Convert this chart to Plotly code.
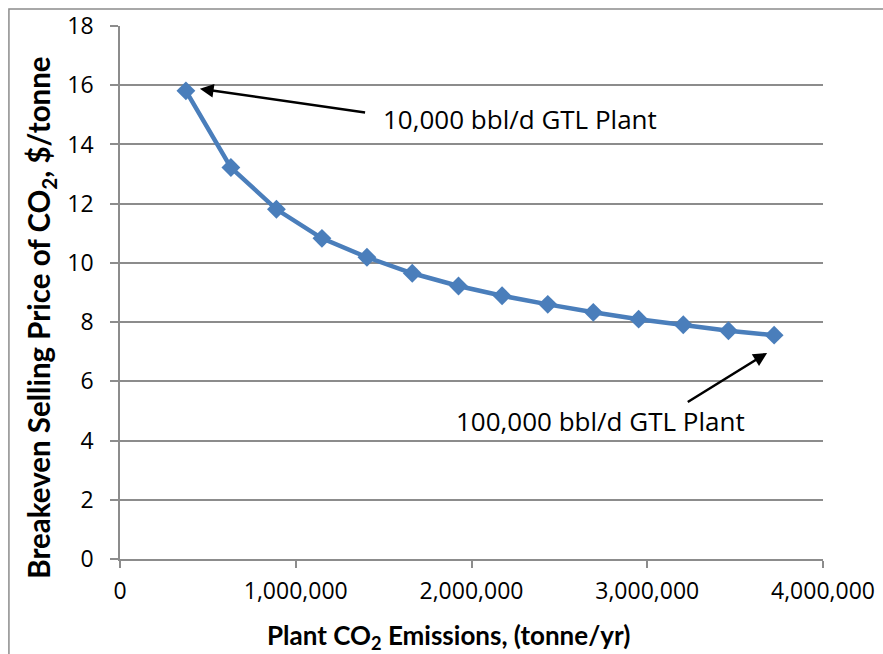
import plotly.graph_objects as go

emissions = [375000, 631000, 890000, 1149000, 1405000, 1663000, 1926000,
             2174000, 2434000, 2693000, 2951000, 3205000, 3462000, 3722000]
price = [15.81, 13.22, 11.81, 10.83, 10.19, 9.65, 9.22,
         8.89, 8.60, 8.33, 8.10, 7.91, 7.71, 7.56]

x_ticks = [0, 1000000, 2000000, 3000000, 4000000]
x_ticklabels = ["0", "1,000,000", "2,000,000", "3,000,000", "4,000,000"]
y_ticks = [0, 2, 4, 6, 8, 10, 12, 14, 16, 18]

label_small = "10,000 bbl/d GTL Plant"
label_large = "100,000 bbl/d GTL Plant"
x_title = "Plant CO<sub>2</sub> Emissions, (tonne/yr)"
y_title = "Breakeven Selling Price of CO<sub>2</sub>, $/tonne"

FONT = "Open Sans"
TFONT = "Lato"
GRID = "#8c8c8c"
BLUE = "#4A7EBB"

fig = go.Figure()
fig.add_trace(go.Scatter(
    x=emissions, y=price, mode="lines+markers",
    line=dict(color=BLUE, width=4.5),
    marker=dict(symbol="diamond", size=14.5, color=BLUE),
    showlegend=False, hoverinfo="skip",
))

fig.update_layout(
    width=883, height=654,
    margin=dict(l=120, r=60, t=26, b=95),
    paper_bgcolor="white", plot_bgcolor="white",
    font=dict(family=FONT, size=23, color="black"),
    xaxis=dict(
        range=[0, 4000000], tickvals=x_ticks, ticktext=x_ticklabels,
        showgrid=False, zeroline=False, showline=True, linecolor=GRID, linewidth=1.5,
        ticks="outside", ticklen=7, tickcolor=GRID, tickwidth=1.5,
        tickfont=dict(family=FONT, size=23), ticklabelstandoff=4, automargin=False,
    ),
    yaxis=dict(
        range=[0, 18], tickvals=y_ticks,
        showgrid=True, gridcolor=GRID, gridwidth=1.5, zeroline=False,
        showline=True, linecolor=GRID, linewidth=1.5,
        ticks="outside", ticklen=8, tickcolor=GRID, tickwidth=1.5,
        tickfont=dict(family=FONT, size=23), ticklabelstandoff=12, automargin=False,
    ),
)

# outer chart-area border
fig.add_shape(type="rect", xref="paper", yref="paper",
              x0=-0.158, x1=1.3, y0=-0.5, y1=1.032,
              line=dict(color=GRID, width=1.5), layer="below")

annotations = [
    dict(text=x_title, xref="paper", yref="paper", x=0.467, y=-0.1445,
         xanchor="center", yanchor="middle", showarrow=False,
         font=dict(family=TFONT, size=26, color="black", weight="bold")),
    dict(text=y_title, xref="paper", yref="paper", x=-0.113, y=0.452,
         xanchor="center", yanchor="middle", showarrow=False, textangle=-90,
         font=dict(family=TFONT, size=29.5, color="black", weight="bold")),
    dict(text="", x=454500, y=15.88, ax=1403000, ay=15.07, xref="x", yref="y",
         axref="x", ayref="y", showarrow=True, arrowhead=2, arrowsize=1.1,
         arrowwidth=2.5, arrowcolor="black"),
    dict(text=label_small, x=1487000, y=14.86, xref="x", yref="y",
         xanchor="left", yanchor="middle", showarrow=False,
         font=dict(family=FONT, size=26, color="black")),
    dict(text="", x=3682000, y=6.96, ax=3222000, ay=5.27, xref="x", yref="y",
         axref="x", ayref="y", showarrow=True, arrowhead=2, arrowsize=1.1,
         arrowwidth=2.5, arrowcolor="black"),
    dict(text=label_large, x=1898000, y=4.66, xref="x", yref="y",
         xanchor="left", yanchor="middle", showarrow=False,
         font=dict(family=FONT, size=26, color="black")),
]
fig.update_layout(annotations=annotations)

fig.write_html("out.html")
